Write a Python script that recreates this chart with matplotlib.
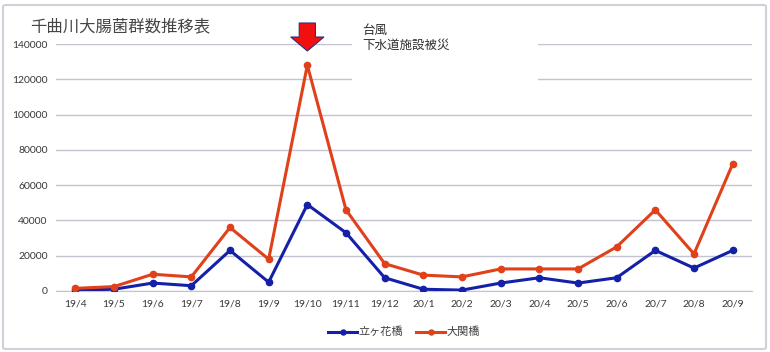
import matplotlib
matplotlib.use("Agg")
import matplotlib.pyplot as plt
import matplotlib.transforms as mtransforms
from matplotlib.patches import Polygon, Rectangle, FancyBboxPatch

months = ["19/4", "19/5", "19/6", "19/7", "19/8", "19/9", "19/10", "19/11", "19/12",
          "20/1", "20/2", "20/3", "20/4", "20/5", "20/6", "20/7", "20/8", "20/9"]
tategahana = [500, 1000, 4500, 3000, 23000, 5000, 49000, 33000, 7500,
              1000, 500, 4500, 7500, 4500, 7500, 23000, 13000, 23000]
ozeki = [1500, 2500, 9500, 8000, 36000, 18000, 128000, 46000, 15500,
         9000, 8000, 12500, 12500, 12500, 25000, 46000, 21000, 72000]
yticks = [0, 20000, 40000, 60000, 80000, 100000, 120000, 140000]
title = "千曲川大腸菌群数推移表"
note = "台風\n下水道施設被災"
names = ["立ヶ花橋", "大関橋"]
colors = ["#1420A8", "#E0401A"]

W, H = 770, 352
fig = plt.figure(figsize=(W / 100, H / 100), dpi=100)
fig.patch.set_facecolor("white")

ax = fig.add_axes([56 / W, 1 - 291 / H, (752 - 56) / W, (291 - 44) / H])
x = list(range(len(months)))
ax.plot(x, tategahana, color=colors[0], lw=2.2, marker="o", ms=4.5, label=names[0], zorder=3)
ax.plot(x, ozeki, color=colors[1], lw=2.2, marker="o", ms=4.5, label=names[1], zorder=3)
ax.set_xlim(-0.5, len(months) - 0.5)
ax.set_ylim(0, 140000)
ax.set_yticks(yticks)
ax.set_yticklabels([str(v) for v in yticks])
ax.set_xticks(x)
ax.set_xticklabels(months)
ax.grid(axis="y", color="#C4C4D0", lw=1.0)
ax.set_axisbelow(True)
for s in ["top", "right", "left"]:
    ax.spines[s].set_visible(False)
ax.spines["bottom"].set_color("#C4C4D0")
ax.tick_params(length=0, labelsize=7.5, labelcolor="#383838", pad=6)
for lab in ax.get_xticklabels() + ax.get_yticklabels():
    lab.set_family(["Lato", "DejaVu Sans"])

leg = ax.legend(loc="upper center", bbox_to_anchor=(0.5, -0.105), ncol=2, frameon=False,
                prop={"family": ["Noto Sans CJK JP", "DejaVu Sans"], "size": 8},
                handlelength=2.6, handletextpad=0.1, columnspacing=1.2, markerscale=0.8)
for t in leg.get_texts():
    t.set_color("#404040")

# title
fig.text(30 / W, 1 - 27 / H, title, fontsize=11.8, color="#454545",
         family=["Noto Sans CJK JP", "DejaVu Sans"], va="center", ha="left")

# white box covering gridlines behind note
fig.patches.append(Rectangle((352 / W, 1 - 82 / H), (538 - 352) / W, 62 / H,
                             transform=fig.transFigure, facecolor="white",
                             edgecolor="none", zorder=2))
fig.text(362 / W, 1 - 38 / H, note, fontsize=9, color="#303030", linespacing=1.25,
         family=["Noto Sans CJK JP", "DejaVu Sans"], va="center", ha="left", zorder=3)

# red block arrow pointing at 19/10
trans = mtransforms.blended_transform_factory(ax.transData, fig.transFigure)
xi = months.index("19/10")
sw, hw = 0.21, 0.43
ytop, ybase, ytip = 1 - 23 / H, 1 - 37 / H, 1 - 51 / H
arrow = Polygon([(xi - sw, ytop), (xi + sw, ytop), (xi + sw, ybase), (xi + hw, ybase),
                 (xi, ytip), (xi - hw, ybase), (xi - sw, ybase)], closed=True,
                transform=trans, facecolor="#F20F0F", edgecolor="#303080", lw=0.8,
                zorder=4, clip_on=False)
fig.patches.append(arrow)

# outer border
fig.patches.append(FancyBboxPatch((3 / W, 3 / H), (766 - 3) / W, (348 - 4) / H,
                                  boxstyle="round,pad=0,rounding_size=0.004",
                                  transform=fig.transFigure, facecolor="none",
                                  edgecolor="#D0D0D8", lw=1.5, zorder=5))

fig.savefig("out.png", dpi=100)
